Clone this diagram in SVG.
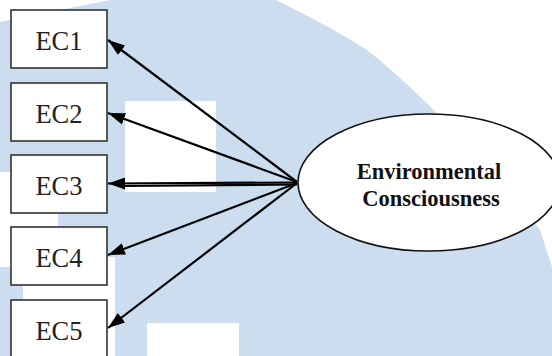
<svg xmlns="http://www.w3.org/2000/svg" width="552" height="356" viewBox="0 0 552 356">
  <defs>
    <style>
      .wm { fill: #cbddee; }
      .gap { fill: #ffffff; }
      .box { fill: #ffffff; stroke: #333333; stroke-width: 1.6; }
      .lbl { font-family: "Liberation Serif", "Times New Roman", serif; font-size: 26.5px; fill: #222222; text-anchor: middle; }
      .lat { fill: #ffffff; stroke: #111111; stroke-width: 1.6; }
      .latlbl { font-family: "Liberation Serif", "Times New Roman", serif; font-size: 22.5px; font-weight: bold; fill: #111111; text-anchor: middle; }
      .edge { stroke: #000000; stroke-width: 2.2; fill: none; }
    </style>
    <marker id="head" markerUnits="userSpaceOnUse" markerWidth="18" markerHeight="14" viewBox="0 0 18 14" refX="17" refY="7" orient="auto">
      <path d="M0,1 L17,7 L0,13 Z" fill="#000000"/>
    </marker>
  </defs>

  <!-- background watermark -->
  <g id="watermark">
    <path class="wm" d="M0,22 L110,0 L276,0 C300,12 334,29 367,50 C400,76 433,108 470,148 C505,188 530,215 540,230 L552,267 L552,356 L0,356 Z"/>
    <rect class="gap" x="125" y="101" width="91" height="91"/>
    <rect class="gap" x="147" y="323" width="92" height="33"/>
    <rect class="gap" x="0" y="172" width="58" height="95"/>
    <rect class="gap" x="23" y="257" width="92" height="99"/>
  </g>

  <!-- connectors -->
  <g id="connectors">
    <line class="edge" x1="297" y1="182" x2="108" y2="40" marker-end="url(#head)"/>
    <line class="edge" x1="297" y1="182" x2="108" y2="113" marker-end="url(#head)"/>
    <line class="edge" x1="297" y1="182.5" x2="108" y2="183.5" marker-end="url(#head)"/>
    <line class="edge" x1="297" y1="184.5" x2="122" y2="186" stroke-width="1.6"/>
    <line class="edge" x1="297" y1="183" x2="108" y2="255" marker-end="url(#head)"/>
    <line class="edge" x1="297" y1="183" x2="108" y2="328" marker-end="url(#head)"/>
  </g>

  <g id="EC1">
    <rect class="box" x="11" y="10" width="96" height="58"/>
    <text class="lbl" x="59" y="49.5">EC1</text>
  </g>
  <g id="EC2">
    <rect class="box" x="11" y="83" width="96" height="58"/>
    <text class="lbl" x="59" y="122.5">EC2</text>
  </g>
  <g id="EC3">
    <rect class="box" x="11" y="155" width="96" height="58"/>
    <text class="lbl" x="59" y="194.5">EC3</text>
  </g>
  <g id="EC4">
    <rect class="box" x="11" y="227" width="96" height="58"/>
    <text class="lbl" x="59" y="266.5">EC4</text>
  </g>
  <g id="EC5">
    <rect class="box" x="11" y="300" width="96" height="60"/>
    <text class="lbl" x="59" y="339.5">EC5</text>
  </g>

  <g id="EnvironmentalConsciousness">
    <ellipse class="lat" cx="429" cy="182.5" rx="131" ry="68.5"/>
    <text class="latlbl" x="429" y="179">Environmental</text>
    <text class="latlbl" x="431" y="206">Consciousness</text>
  </g>
</svg>
